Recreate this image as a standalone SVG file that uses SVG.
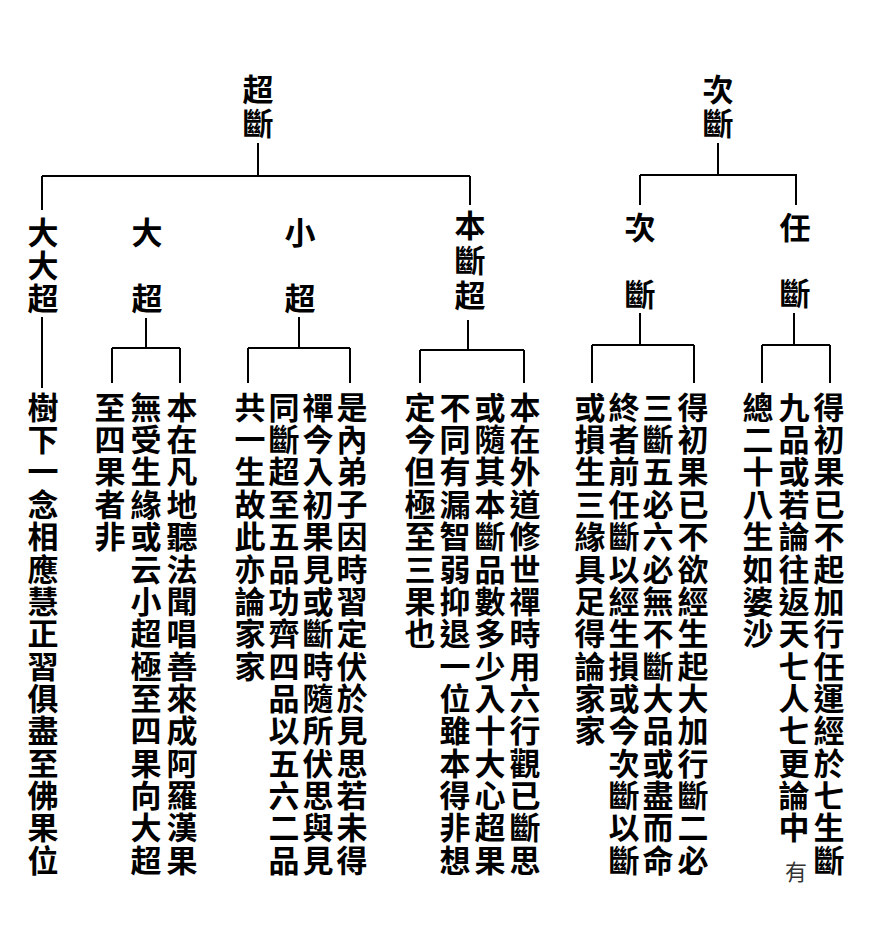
<svg xmlns="http://www.w3.org/2000/svg" width="870" height="939" viewBox="0 0 870 939">
<style>
.bg{fill:#fff}
.col{font-family:"Noto Sans CJK TC","Noto Sans CJK JP",sans-serif;font-size:31px;font-weight:700;fill:#000;writing-mode:vertical-rl;text-orientation:upright;letter-spacing:1.36px}
.hd{font-family:"Noto Sans CJK TC","Noto Sans CJK JP",sans-serif;font-size:31px;font-weight:700;fill:#000;writing-mode:vertical-rl;text-orientation:upright}
.sm{font-family:"Noto Sans CJK TC","Noto Sans CJK JP",sans-serif;font-size:22px;font-weight:400;fill:#333;writing-mode:vertical-rl;text-orientation:upright}
.ln{stroke:#000;stroke-width:2;fill:none}
</style>
<rect class="bg" x="0" y="0" width="870" height="939"/>
<g id="connectors">
<path class="ln" d="M258 143V176M42 176H470M42 176V210M42 317V388M470 176V205"/>
<path class="ln" d="M146 318V348M112 348H180M112 348V383M180 348V383"/>
<path class="ln" d="M299 317V348M248 348H350M248 348V383M350 348V383"/>
<path class="ln" d="M468 320V350M420 350H524M420 350V383M524 350V383"/>
<path class="ln" d="M718 143V175M640 175H797M640 175V205M796 175V205"/>
<path class="ln" d="M640 313V345M592 345H694M592 345V383M694 345V383"/>
<path class="ln" d="M794 313V345M762 345H830M762 345V383M830 345V383"/>
</g>
<g id="n-chaoduan"><text class="hd" x="258" y="73.5" style="letter-spacing:3px">超斷</text></g>
<g id="n-ciduan"><text class="hd" x="718" y="73.5" style="letter-spacing:3px">次斷</text></g>
<g id="n-dadachao"><text class="hd" x="43" y="216.5" style="letter-spacing:2px">大大超</text></g>
<g id="n-dachao"><text class="hd" x="147" y="216.5">大</text><text class="hd" x="147" y="282.5">超</text></g>
<g id="n-xiaochao"><text class="hd" x="300" y="216.5">小</text><text class="hd" x="300" y="282.5">超</text></g>
<g id="n-benduanchao"><text class="hd" x="470" y="209.5" style="letter-spacing:4px">本斷超</text></g>
<g id="n-ciduan2"><text class="hd" x="640" y="211.5">次</text><text class="hd" x="640" y="278.5">斷</text></g>
<g id="n-renduan"><text class="hd" x="795" y="211.5">任</text><text class="hd" x="795" y="277.5">斷</text></g>
<g id="t-dadachao"><text class="col" x="43" y="391.5">樹下一念相應慧正習俱盡至佛果位</text></g>
<g id="t-dachao">
<text class="col" x="110" y="391.5">至四果者非</text>
<text class="col" x="146" y="391.5">無受生緣或云小超極至四果向大超</text>
<text class="col" x="182" y="391.5">本在凡地聽法聞唱善來成阿羅漢果</text>
</g>
<g id="t-xiaochao">
<text class="col" x="250" y="391.5">共一生故此亦論家家</text>
<text class="col" x="284" y="391.5">同斷超至五品功齊四品以五六二品</text>
<text class="col" x="318" y="391.5">禪今入初果見或斷時隨所伏思與見</text>
<text class="col" x="352" y="391.5">是內弟子因時習定伏於見思若未得</text>
</g>
<g id="t-benduanchao">
<text class="col" x="420" y="391.5">定今但極至三果也</text>
<text class="col" x="455" y="391.5">不同有漏智弱抑退一位雖本得非想</text>
<text class="col" x="490" y="391.5">或隨其本斷品數多少入十大心超果</text>
<text class="col" x="525" y="391.5">本在外道修世禪時用六行觀已斷思</text>
</g>
<g id="t-ciduan">
<text class="col" x="590" y="391.5">或損生三緣具足得論家家</text>
<text class="col" x="624" y="391.5">終者前任斷以經生損或今次斷以斷</text>
<text class="col" x="658" y="391.5">三斷五必六必無不斷大品或盡而命</text>
<text class="col" x="693" y="391.5">得初果已不欲經生起大加行斷二必</text>
</g>
<g id="t-renduan">
<text class="col" x="758" y="391.5">總二十八生如婆沙</text>
<text class="col" x="794" y="391.5">九品或若論往返天七人七更論中</text>
<text class="sm" x="796" y="861">有</text>
<text class="col" x="829" y="391.5">得初果已不起加行任運經於七生斷</text>
</g>
</svg>
